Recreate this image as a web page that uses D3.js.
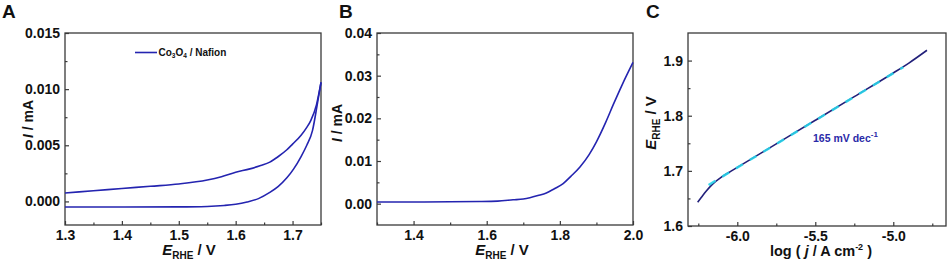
<!DOCTYPE html>
<html><head><meta charset="utf-8">
<script src="https://cdn.jsdelivr.net/npm/d3@7"></script>
<style>
html,body{margin:0;padding:0;background:#fff;}
svg text{font-family:"Liberation Sans",Arial,sans-serif;font-weight:bold;fill:#111;}
</style></head>
<body>
<svg id="chart" width="948" height="266"></svg>
<script>
// ---------- Data ----------
// Panel A: cyclic voltammogram (upper and lower branches)
const aUpperX = [1.30,1.35,1.40,1.45,1.50,1.55,1.575,1.60,1.625,1.644,1.66,1.675,1.69,1.70,1.715,1.725,1.732,1.742,1.75];
const aUpperY = [0.00075,0.00095,0.00115,0.00135,0.00155,0.0019,0.0022,0.0026,0.0029,0.0032,0.0035,0.0040,0.0046,0.0051,0.0059,0.0066,0.0072,0.0086,0.0106];
const aLowerX = [1.30,1.40,1.50,1.55,1.58,1.60,1.62,1.64,1.66,1.675,1.69,1.702,1.715,1.725,1.735,1.743,1.75];
const aLowerY = [-0.0005,-0.0005,-0.00049,-0.00045,-0.00036,-0.00025,-0.00005,0.00025,0.0008,0.00134,0.0021,0.0029,0.0040,0.0050,0.0063,0.0085,0.0106];
// Panel B: linear sweep voltammogram
const bX = [1.30,1.40,1.50,1.58,1.63,1.672,1.70,1.718,1.74,1.763,1.785,1.809,1.83,1.855,1.88,1.90,1.925,1.946,1.97,2.0];
const bY = [0.0004,0.0004,0.00045,0.0005,0.0006,0.0009,0.0011,0.0014,0.0019,0.0025,0.0035,0.0047,0.0064,0.0086,0.0115,0.0145,0.0190,0.0232,0.0278,0.0331];
// Panel C: Tafel plot and linear fit
const cX = [-6.254,-6.230,-6.200,-6.160,-6.100,-6.040,-6.000,-5.750,-5.500,-5.250,-5.000,-4.900,-4.784];
const cY = [1.643,1.652,1.663,1.6755,1.689,1.6995,1.7063,1.7490,1.7917,1.8345,1.8775,1.8955,1.9187];
const fitX = [-6.184,-4.936];
const fitY = [1.6745,1.888];
// Ticks
const aXTicks = [1.3,1.4,1.5,1.6,1.7];
const aXMinor = [1.35,1.45,1.55,1.65,1.75];
const aYTicks = [0.000,0.005,0.010,0.015];
const aYMinor = [0.0025,0.0075,0.0125];
const bXTicks = [1.4,1.6,1.8,2.0];
const bXMinor = [1.3,1.5,1.7,1.9];
const bYTicks = [0.00,0.01,0.02,0.03,0.04];
const bYMinor = [0.005,0.015,0.025,0.035];
const cXTicks = [-6.0,-5.5,-5.0];
const cXMinor = [-6.25,-5.75,-5.25,-4.75];
const cYTicks = [1.6,1.7,1.8,1.9];
const cYMinor = [1.65,1.75,1.85];

const svg = d3.select("#chart");
const BLUE = "#2424b0", NAVY = "#22207a", CYAN = "#28d4ea", FRAME = "#3a3a3a";

function panel(o){
  const g = svg.append("g");
  const x = d3.scaleLinear().domain(o.xDomain).range([o.x0,o.x1]);
  const y = d3.scaleLinear().domain(o.yDomain).range([o.y1,o.y0]);
  const ax = d3.axisBottom(x).tickValues(o.xTicks).tickSizeInner(-4).tickSizeOuter(0).tickPadding(5).tickFormat(o.xFmt);
  const axm = d3.axisBottom(x).tickValues(o.xMinor).tickSizeInner(-2.5).tickSizeOuter(0).tickFormat("");
  const ay = d3.axisLeft(y).tickValues(o.yTicks).tickSizeInner(-4).tickSizeOuter(0).tickPadding(5).tickFormat(o.yFmt);
  const aym = d3.axisLeft(y).tickValues(o.yMinor).tickSizeInner(-2.5).tickSizeOuter(0).tickFormat("");
  [[ax,"b"],[axm,"b"],[ay,"l"],[aym,"l"]].forEach(([a,s])=>{
    const gg = g.append("g").attr("transform", s==="b" ? `translate(0,${o.y1})` : `translate(${o.x0},0)`).call(a);
    gg.select(".domain").remove();
    gg.selectAll("line").attr("stroke",FRAME).attr("stroke-width",1.2);
    gg.selectAll("text").attr("font-size",14).attr("fill","#111").style("font-family","'Liberation Sans',Arial,sans-serif").style("font-weight","bold");
  });
  g.append("rect").attr("x",o.x0).attr("y",o.y0).attr("width",o.x1-o.x0).attr("height",o.y1-o.y0)
    .attr("fill","none").attr("stroke",FRAME).attr("stroke-width",1.3);
  g.append("text").attr("x",o.lx).attr("y",18).attr("font-size",19).text(o.letter);
  return {g,x,y};
}

const fmt = n => d => d.toFixed(n);
const Y0 = 33, Y1 = 225;

// ---- Panel A ----
const A = panel({x0:65,x1:321,y0:Y0,y1:Y1,xDomain:[1.3,1.75],yDomain:[-0.0021,0.015],
  xTicks:aXTicks,xMinor:aXMinor,yTicks:aYTicks,yMinor:aYMinor,xFmt:fmt(1),yFmt:fmt(3),letter:"A",lx:2});
const lineA = d3.line().x(d=>A.x(d[0])).y(d=>A.y(d[1])).curve(d3.curveMonotoneX);
A.g.append("path").attr("d",lineA(d3.zip(aUpperX,aUpperY))).attr("fill","none").attr("stroke",BLUE).attr("stroke-width",1.6);
A.g.append("path").attr("d",lineA(d3.zip(aLowerX,aLowerY))).attr("fill","none").attr("stroke",BLUE).attr("stroke-width",1.6);
A.g.append("line").attr("x1",135).attr("x2",157).attr("y1",52.5).attr("y2",52.5).attr("stroke",BLUE).attr("stroke-width",1.6);
const lt = A.g.append("text").attr("x",158.5).attr("y",56).attr("font-size",10);
lt.append("tspan").text("Co");
lt.append("tspan").attr("font-size",6.5).attr("dy",1.5).text("3");
lt.append("tspan").attr("dy",-1.5).text("O");
lt.append("tspan").attr("font-size",6.5).attr("dy",1.5).text("4");
lt.append("tspan").attr("dy",-1.5).text(" / Nafion");

function yTitleI(cx, cy){
  const t = svg.append("text").attr("transform",`translate(${cx},${cy}) rotate(-90)`).attr("text-anchor","middle").attr("font-size",14);
  t.append("tspan").attr("font-style","italic").text("I");
  t.append("tspan").text(" / mA");
}
function xTitleE(cx, by){
  const t = svg.append("text").attr("x",cx).attr("y",by).attr("text-anchor","middle").attr("font-size",15);
  t.append("tspan").attr("font-style","italic").text("E");
  t.append("tspan").attr("font-size",10).attr("dy",4).text("RHE");
  t.append("tspan").attr("dy",-4).text(" / V");
}
yTitleI(33,119);
xTitleE(189,255);

// ---- Panel B ----
const B = panel({x0:377,x1:633,y0:Y0,y1:Y1,xDomain:[1.3,2.0],yDomain:[-0.005,0.04],
  xTicks:bXTicks,xMinor:bXMinor,yTicks:bYTicks,yMinor:bYMinor,xFmt:fmt(1),yFmt:fmt(2),letter:"B",lx:339});
const lineB = d3.line().x(d=>B.x(d[0])).y(d=>B.y(d[1])).curve(d3.curveMonotoneX);
B.g.append("path").attr("d",lineB(d3.zip(bX,bY))).attr("fill","none").attr("stroke",BLUE).attr("stroke-width",1.6);
yTitleI(342,123);
xTitleE(502,255);

// ---- Panel C ----
const C = panel({x0:688,x1:946,y0:Y0,y1:Y1+1,xDomain:[-6.316,-4.662],yDomain:[1.6,1.95],
  xTicks:cXTicks,xMinor:cXMinor,yTicks:cYTicks,yMinor:cYMinor,xFmt:fmt(1),yFmt:fmt(1),letter:"C",lx:646});
const lineC = d3.line().x(d=>C.x(d[0])).y(d=>C.y(d[1])).curve(d3.curveMonotoneX);
C.g.append("path").attr("d",lineC(d3.zip(cX,cY))).attr("fill","none").attr("stroke",NAVY).attr("stroke-width",1.6);
C.g.append("path").attr("d",lineC(d3.zip(fitX,fitY))).attr("fill","none").attr("stroke",CYAN).attr("stroke-width",2.4).attr("stroke-dasharray","8,8").attr("opacity",0.9);
const ann = C.g.append("text").attr("x",813).attr("y",141.5).attr("font-size",10.5).style("fill","#2a2aa8");
ann.append("tspan").text("165 mV dec");
ann.append("tspan").attr("font-size",8).attr("dy",-5).text("-1");
const cyt = svg.append("text").attr("transform","translate(656,123) rotate(-90)").attr("text-anchor","middle").attr("font-size",15);
cyt.append("tspan").attr("font-style","italic").text("E");
cyt.append("tspan").attr("font-size",10).attr("dy",4).text("RHE");
cyt.append("tspan").attr("dy",-4).text(" / V");
const cxt = svg.append("text").attr("x",821).attr("y",256).attr("text-anchor","middle").attr("font-size",14.5);
cxt.append("tspan").text("log ( ");
cxt.append("tspan").attr("font-style","italic").text("j");
cxt.append("tspan").text(" / A cm");
cxt.append("tspan").attr("font-size",9).attr("dy",-6).text("-2");
cxt.append("tspan").attr("dy",6).text(" )");
</script>
</body></html>
